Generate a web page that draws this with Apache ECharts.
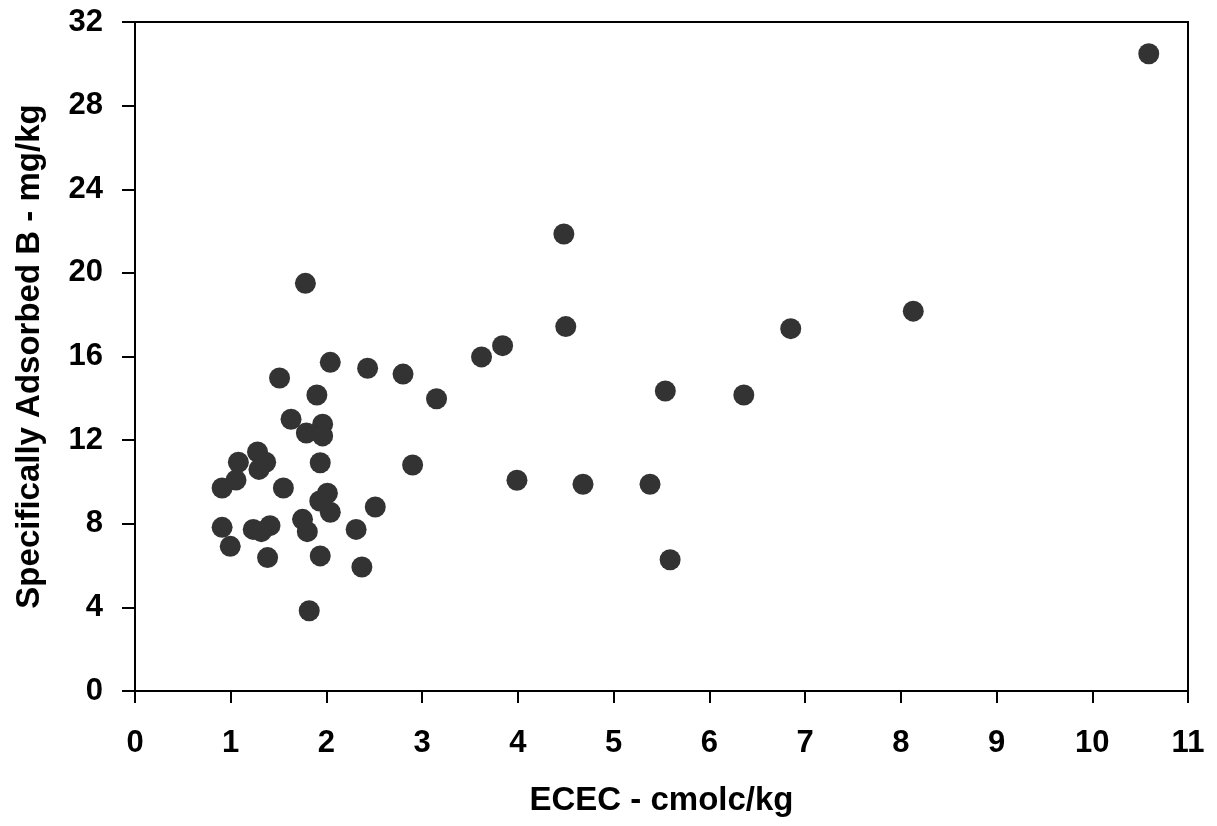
<!DOCTYPE html>
<html>
<head>
<meta charset="utf-8">
<script src="https://cdn.jsdelivr.net/npm/echarts@6/dist/echarts.min.js"></script>
<style>
html,body{margin:0;padding:0;background:#fff;}
#chart{width:1217px;height:826px;}
</style>
</head>
<body>
<div id="chart"></div>
<script>
const ecec = [1.78, 2.04, 2.43, 2.80, 3.15, 1.51, 1.90, 1.63, 1.96, 1.79, 1.96, 1.28, 1.08, 1.365, 1.295, 1.055, 0.91, 1.55, 1.935, 2.90, 2.01, 1.93, 2.04, 2.51, 0.91, 1.235, 1.41, 1.32, 1.75, 1.80, 2.31, 0.995, 1.385, 1.935, 2.37, 1.82, 4.48, 4.50, 3.84, 3.62, 6.85, 5.54, 6.36, 3.99, 4.68, 5.38, 5.59, 8.13, 10.59];
const adsorbedB = [19.50, 15.72, 15.44, 15.16, 13.98, 14.97, 14.16, 13.00, 12.76, 12.34, 12.20, 11.43, 10.94, 10.94, 10.60, 10.09, 9.71, 9.71, 10.92, 10.81, 9.46, 9.09, 8.55, 8.80, 7.83, 7.73, 7.91, 7.62, 8.21, 7.62, 7.73, 6.92, 6.38, 6.46, 5.93, 3.84, 21.86, 17.43, 16.52, 15.98, 17.33, 14.35, 14.16, 10.08, 9.89, 9.89, 6.28, 18.17, 30.48];
const xTitle = 'ECEC - cmolc/kg';
const yTitle = 'Specifically Adsorbed B - mg/kg';

const points = ecec.map((x, i) => [x, adsorbedB[i]]);
const font = '"Liberation Sans", Arial, sans-serif';

const chart = echarts.init(document.getElementById('chart'), null, {renderer: 'canvas'});
chart.setOption({
  animation: false,
  backgroundColor: '#ffffff',
  grid: {left: 135, right: 29, top: 22, bottom: 135, containLabel: false, outerBoundsMode: 'none',
         show: true, borderColor: '#000', borderWidth: 2, backgroundColor: 'transparent'},
  xAxis: {
    type: 'value', min: 0, max: 11, interval: 1,
    name: xTitle, nameLocation: 'middle', nameGap: 93,
    nameTextStyle: {fontFamily: font, fontWeight: 'bold', fontSize: 33, color: '#000'},
    axisLine: {show: true, lineStyle: {color: '#000', width: 2}},
    axisTick: {show: true, inside: false, length: 12, lineStyle: {color: '#000', width: 2}},
    axisLabel: {margin: 37, fontFamily: font, fontWeight: 'bold', fontSize: 31, color: '#000'},
    splitLine: {show: false}
  },
  yAxis: {
    type: 'value', min: 0, max: 32, interval: 4,
    name: yTitle, nameLocation: 'middle', nameGap: 89,
    nameTextStyle: {fontFamily: font, fontWeight: 'bold', fontSize: 33, color: '#000'},
    axisLine: {show: true, lineStyle: {color: '#000', width: 2}},
    axisTick: {show: true, inside: false, length: 13, lineStyle: {color: '#000', width: 2}},
    axisLabel: {margin: 32, fontFamily: font, fontWeight: 'bold', fontSize: 31, color: '#000'},
    splitLine: {show: false}
  },
  series: [{
    type: 'scatter',
    data: points,
    symbol: 'circle',
    symbolSize: 21,
    itemStyle: {color: '#333333', opacity: 1}
  }]
});
</script>
</body>
</html>
